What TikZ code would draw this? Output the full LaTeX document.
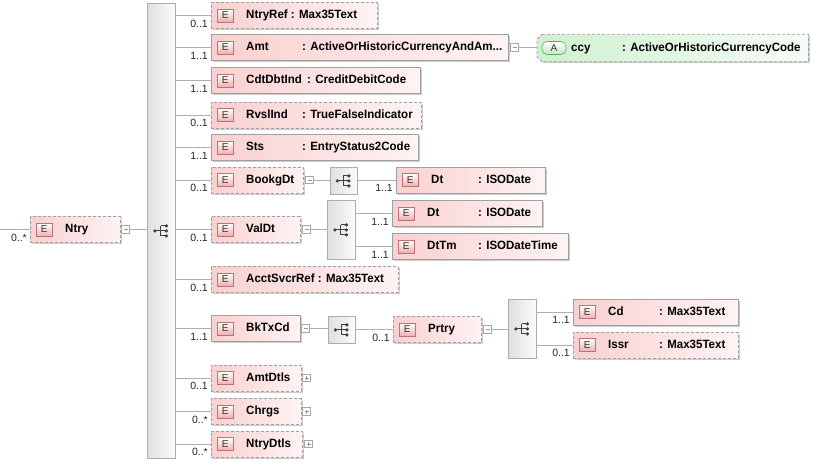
\documentclass[tikz,border=0pt]{standalone}
\usepackage{fontspec}
\setmainfont{Liberation Sans}
\newfontfamily\lblfont{Liberation Sans}[FakeStretch=0.96]
\usetikzlibrary{shadows}
\definecolor{efillL}{RGB}{249,208,208}
\definecolor{efillR}{RGB}{254,243,243}
\definecolor{eborder}{RGB}{160,160,160}
\definecolor{linkc}{RGB}{175,175,175}
\definecolor{badgeB}{RGB}{185,115,115}
\definecolor{badgeF}{RGB}{240,175,175}
\definecolor{afillL}{RGB}{208,240,208}
\definecolor{afillR}{RGB}{246,252,246}
\definecolor{abadgeB}{RGB}{95,170,95}
\definecolor{abadgeF}{RGB}{190,232,190}
\tikzset{
 x=1pt, y=-1pt,
 elem/.style={rectangle, draw=eborder, line width=0.8pt, left color=efillL, right color=efillR,
   minimum height=26pt, inner sep=0pt, anchor=west,
   drop shadow={shadow xshift=1.5pt, shadow yshift=-1.5pt, opacity=0.2, fill=black}},
 opt/.style={dash pattern=on 3pt off 2pt},
 ebadge/.style={rectangle, draw=badgeB, line width=0.6pt, top color=white, bottom color=badgeF,
   minimum width=16pt, minimum height=13pt, inner sep=0pt, font=\fontsize{10}{10}\selectfont, text=black!80},
 abadge/.style={rectangle, rounded corners=5pt, draw=abadgeB, line width=0.6pt, top color=white, bottom color=abadgeF,
   minimum width=24pt, minimum height=13pt, inner sep=0pt, font=\fontsize{10}{10}\selectfont, text=black!80},
 etext/.style={inner sep=0pt, anchor=west, text height=8.5pt, text depth=2.5pt, font=\lblfont\fontsize{12}{14}\selectfont\bfseries},
 mult/.style={inner sep=0pt, anchor=east, font=\fontsize{10.5}{12}\selectfont, text=black!85},
 comp/.style={rectangle, draw=gray!65, line width=0.8pt, left color=gray!25, right color=gray!3, inner sep=0pt, anchor=north west},
 tog/.style={rectangle, draw=gray!70, fill=white, minimum size=7.5pt, inner sep=0pt, line width=0.6pt},
 togl/.style={draw=gray!80, line width=0.6pt},
 link/.style={draw=linkc, line width=0.8pt},
 iconl/.style={draw=black!75, line width=0.9pt},
 iconf/.style={fill=black!75},
}
\newcommand\Elem[7]{%
  \node[elem,#5,minimum width=#4pt] (#1) at (#2,#3) {};
  \node[ebadge,anchor=west] (#1-e) at ([xshift=6pt]#1.west) {E};
  \node[etext] (#1-n) at ([xshift=35pt]#1.west) {#6};
  \node[mult] (#1-m) at ([xshift=-3pt,yshift=-8pt]#1.west) {#7};
}
\newcommand\Typ[3]{\node[etext] (#1-t) at ([xshift=#2pt]#1.west) {#3};}
\newcommand\Tog[3]{%
  \node[tog] (#1) at (#2,#3) {};
  \draw[togl] ([xshift=-2pt]#1.center) -- ([xshift=2pt]#1.center);
}
\newcommand\PlusMark[1]{\draw[togl] ([yshift=-2pt]#1.center) -- ([yshift=2pt]#1.center);}
\newcommand\SeqIcon[1]{%
  \draw[iconl] ([xshift=-6.5pt]#1.center) -- ([xshift=-0.5pt]#1.center);
  \draw[iconl] ([xshift=-0.5pt,yshift=5pt]#1.center) -- ([xshift=-0.5pt,yshift=-5pt]#1.center);
  \foreach \dd in {5,0,-5}{%
    \draw[iconl] ([xshift=-0.5pt,yshift=\dd pt]#1.center) -- ([xshift=5pt,yshift=\dd pt]#1.center);
    \fill[iconf] ([xshift=5pt,yshift=\dd pt]#1.center) circle (1.8pt);}
  \fill[iconf] ([xshift=-6.5pt]#1.center) circle (1.8pt);
}
\begin{document}
\begin{tikzpicture}
\fill[white] (0,0) rectangle (816,461);
\useasboundingbox (0,0) rectangle (816,461);

% compositors
\node[comp, minimum width=28pt, minimum height=455pt] (seq) at (147,3) {};
\SeqIcon{seq}
\node[comp, minimum width=27pt, minimum height=27pt] (bkc) at (330,167) {};
\SeqIcon{bkc}
\node[comp, minimum width=28pt, minimum height=59pt] (vdc) at (327,200) {};
\SeqIcon{vdc}
\node[comp, minimum width=27pt, minimum height=27pt] (btc) at (328,316) {};
\SeqIcon{btc}
\node[comp, minimum width=28pt, minimum height=59pt] (prc) at (508,299) {};
\SeqIcon{prc}

% root
\Elem{ntry}{30}{229.5}{90}{opt}{Ntry}{0..*}
\Tog{ntry-x}{125.5}{229.5}

% children of Ntry
\Elem{ntryref}{211}{15.5}{166}{opt}{NtryRef : Max35Text}{0..1}
\Elem{amt}{211}{47.5}{297}{solid}{Amt}{1..1}
\Typ{amt}{91}{: ActiveOrHistoricCurrencyAndAm...}
\Tog{amt-x}{514.5}{47.5}
\Elem{cdtdbtind}{211}{80.5}{209}{solid}{CdtDbtInd}{1..1}
\Typ{cdtdbtind}{96}{: CreditDebitCode}
\Elem{rvslind}{211}{115}{210}{opt}{RvslInd}{0..1}
\Typ{rvslind}{91}{: TrueFalseIndicator}
\Elem{sts}{211}{147.5}{207}{solid}{Sts}{1..1}
\Typ{sts}{91}{: EntryStatus2Code}
\Elem{bookgdt}{211}{180}{92}{opt}{BookgDt}{0..1}
\Tog{bookgdt-x}{309.5}{180}
\Elem{valdt}{211}{229.5}{89}{opt}{ValDt}{0..1}
\Tog{valdt-x}{306.5}{229.5}
\Elem{acctsvcrref}{211}{279.5}{187}{opt}{AcctSvcrRef : Max35Text}{0..1}
\Elem{bktxcd}{211}{328.5}{89}{solid}{BkTxCd}{1..1}
\Tog{bktxcd-x}{305.5}{328.5}
\Elem{amtdtls}{211}{378}{90}{opt}{AmtDtls}{0..1}
\Tog{amtdtls-x}{306.5}{378}\PlusMark{amtdtls-x}
\Elem{chrgs}{211}{411.5}{90}{opt}{Chrgs}{0..*}
\Tog{chrgs-x}{306.5}{411.5}\PlusMark{chrgs-x}
\Elem{ntrydtls}{211}{444}{91}{opt}{NtryDtls}{0..*}
\Tog{ntrydtls-x}{308.5}{444}\PlusMark{ntrydtls-x}

% attribute ccy
\node[inner sep=0pt, minimum width=271pt, minimum height=27pt, anchor=west] (ccy) at (537,48) {};
\path[fill=black, opacity=0.2]
  ([xshift=6.5pt,yshift=-1.5pt]ccy.north west) -- ([xshift=1.5pt,yshift=-1.5pt]ccy.north east)
  -- ([xshift=1.5pt,yshift=-1.5pt]ccy.south east) -- ([xshift=6.5pt,yshift=-1.5pt]ccy.south west)
  -- ([xshift=1.5pt,yshift=3.5pt]ccy.south west) -- ([xshift=1.5pt,yshift=-6.5pt]ccy.north west) -- cycle;
\path[draw=eborder, line width=0.8pt, opt, left color=afillL, right color=afillR]
  ([xshift=5pt]ccy.north west) -- (ccy.north east) -- (ccy.south east) -- ([xshift=5pt]ccy.south west)
  -- ([yshift=5pt]ccy.south west) -- ([yshift=-5pt]ccy.north west) -- cycle;
\node[abadge] (ccy-a) at ([xshift=17pt]ccy.west) {A};
\node[etext] (ccy-n) at ([xshift=34pt]ccy.west) {ccy};
\node[etext] (ccy-t) at ([xshift=85pt]ccy.west) {: ActiveOrHistoricCurrencyCode};

% BookgDt content
\Elem{bdt}{396}{180}{149}{solid}{Dt}{1..1}
\Typ{bdt}{82}{: ISODate}
% ValDt content
\Elem{vdt}{392}{213.5}{150}{solid}{Dt}{1..1}
\Typ{vdt}{86}{: ISODate}
\Elem{vdtm}{392}{246.5}{176}{solid}{DtTm}{1..1}
\Typ{vdtm}{86}{: ISODateTime}
% BkTxCd content
\Elem{prtry}{393}{329.5}{88}{opt}{Prtry}{0..1}
\Tog{prtry-x}{487.5}{329.5}
\Elem{cd}{573}{312}{165}{solid}{Cd}{1..1}
\Typ{cd}{86}{: Max35Text}
\Elem{issr}{573}{345}{165}{opt}{Issr}{0..1}
\Typ{issr}{86}{: Max35Text}

% connectors
\coordinate (src) at (0,229.5);
\draw[link] (src) -- (ntry.west);
\draw[link] (ntry-x.east) -- (ntry-x.east -| seq.west);
\foreach \c in {ntryref,amt,cdtdbtind,rvslind,sts,bookgdt,valdt,acctsvcrref,bktxcd,amtdtls,chrgs,ntrydtls}
  \draw[link] (seq.east |- \c.west) -- (\c.west);
\draw[link] (amt-x.east) -- (amt-x.east -| ccy.west);
\draw[link] (bookgdt-x.east) -- (bookgdt-x.east -| bkc.west);
\draw[link] (bkc.east |- bdt.west) -- (bdt.west);
\draw[link] (valdt-x.east) -- (valdt-x.east -| vdc.west);
\draw[link] (vdc.east |- vdt.west) -- (vdt.west);
\draw[link] (vdc.east |- vdtm.west) -- (vdtm.west);
\draw[link] (bktxcd-x.east) -- (bktxcd-x.east -| btc.west);
\draw[link] (btc.east |- prtry.west) -- (prtry.west);
\draw[link] (prtry-x.east) -- (prtry-x.east -| prc.west);
\draw[link] (prc.east |- cd.west) -- (cd.west);
\draw[link] (prc.east |- issr.west) -- (issr.west);
\end{tikzpicture}
\end{document}
